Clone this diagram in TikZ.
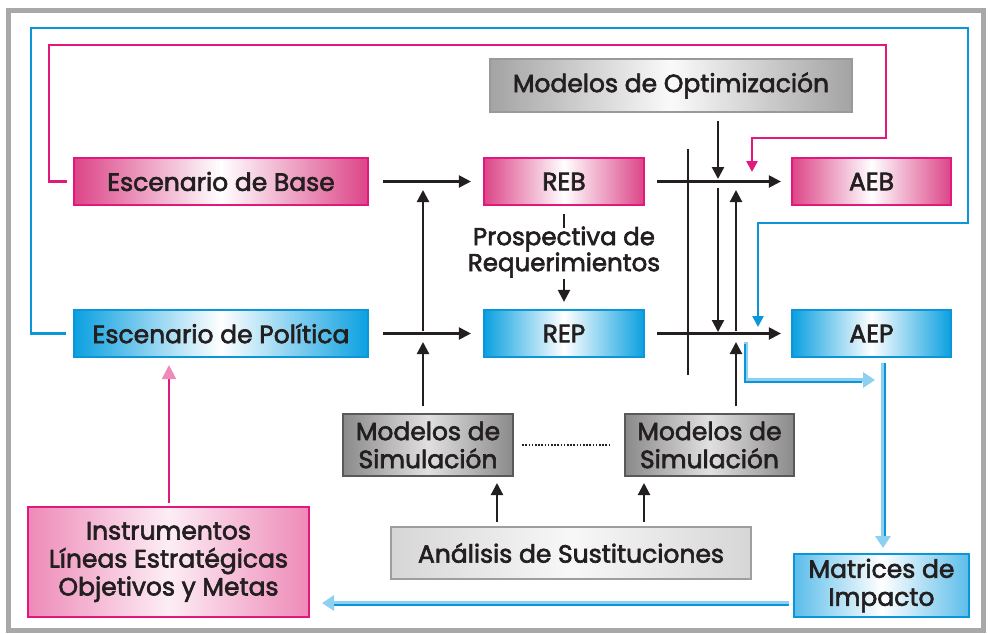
\documentclass[tikz,border=0pt]{standalone}
\usepackage{fontspec}
\setmainfont{Poppins}[FakeBold=2.5]
\usetikzlibrary{arrows.meta}
\definecolor{mag}{HTML}{E2187F}
\definecolor{pinkE}{HTML}{DC4588}
\definecolor{pinkL}{HTML}{EE8AB8}
\definecolor{bluB}{HTML}{0A96D8}
\definecolor{bluE}{HTML}{0BA0E0}
\definecolor{bluL}{HTML}{8CD0F2}
\definecolor{bluM}{HTML}{5BBDEA}
\definecolor{ink}{HTML}{231F20}
\definecolor{frameG}{HTML}{A8A8A8}
\tikzset{
  x=1pt, y=-1pt,
  txt/.style={font=\fontsize{25}{28}\selectfont, text=ink, align=center, inner sep=0pt},
  pinkbox/.style={txt, rectangle, draw=mag, line width=2.2pt, left color=pinkE, right color=pinkE, middle color=white},
  bluebox/.style={txt, rectangle, draw=bluB, line width=2.2pt, left color=bluE, right color=bluE, middle color=white},
  optbox/.style={txt, rectangle, draw=black!40, line width=2.5pt, left color=black!36, right color=black!36, middle color=black!2},
  simbox/.style={txt, rectangle, draw=black!65, line width=2.5pt, left color=black!46, right color=black!46, middle color=black!12},
  anabox/.style={txt, rectangle, draw=black!38, line width=2.5pt, left color=black!16, right color=black!16, middle color=black!3},
  arr/.style={draw=ink, line width=2.2pt, -{Triangle[length=12pt,width=12pt]}},
  plainline/.style={draw=ink, line width=2.2pt},
  pinkloop/.style={draw=mag, line width=2.4pt, -{Triangle[length=11pt,width=11pt]}},
  blueloop/.style={draw=bluB, line width=2.4pt, -{Triangle[length=11pt,width=11pt]}},
  b3d/.style={draw=bluL, line width=4.5pt, -{Triangle[length=12pt,width=15pt]}},
  b3dcore/.style={draw=bluB, line width=2pt},
  dots/.style={draw=ink, line width=2.6pt, dash pattern=on 1.6pt off 1.6pt},
}
\begin{document}
\begin{tikzpicture}
\useasboundingbox (0,0) rectangle (990,633);
\fill[white] (0,0) rectangle (990,633);
\draw[frameG, line width=5pt] (8,10) rectangle (983,630);

% nodes
\node[pinkbox, minimum width=294pt, minimum height=47pt] (base) at (221,181.5) {Escenario de Base};
\node[bluebox, minimum width=294pt, minimum height=47pt] (pol) at (221,333.5) {Escenario de Política};
\node[pinkbox, minimum width=160pt, minimum height=47pt] (reb) at (564,181.5) {REB};
\node[bluebox, minimum width=160pt, minimum height=47pt] (rep) at (564,333.5) {REP};
\node[pinkbox, minimum width=159pt, minimum height=47pt] (aeb) at (871.5,181.5) {AEB};
\node[bluebox, minimum width=159pt, minimum height=47pt] (aep) at (871.5,333.5) {AEP};
\node[optbox, minimum width=362pt, minimum height=53pt] (opt) at (671,85.5) {Modelos de Optimización};
\node[simbox, minimum width=170pt, minimum height=62pt] (sim1) at (428,445) {Modelos de\\Simulación};
\node[simbox, minimum width=169pt, minimum height=62pt] (sim2) at (709.5,445) {Modelos de\\Simulación};
\node[anabox, minimum width=360pt, minimum height=52pt] (ana) at (571,553) {Análisis de Sustituciones};
\node[pinkbox, left color=pinkL, right color=pinkL, middle color=white!85!pinkL, minimum width=281pt, minimum height=110pt] (ins) at (168.5,562) {Instrumentos\\Líneas Estratégicas\\Objetivos y Metas};
\node[bluebox, left color=bluM, right color=bluM, middle color=white, minimum width=175pt, minimum height=63pt] (mat) at (881.5,585.5) {Matrices de\\Impacto};
\node[txt, font=\fontsize{24.5}{26}\selectfont] (pros) at (564,252) {Prospectiva de\\Requerimientos};

% coordinates
\coordinate (v1a) at (423,331);
\coordinate (v1b) at (423,190);
\coordinate (v2a) at (423,406);
\coordinate (v2b) at (423,342);
\coordinate (o1a) at (718,121);
\coordinate (o1b) at (718,179);
\coordinate (o2a) at (718,188);
\coordinate (o2b) at (718,332);
\coordinate (u1a) at (736,331);
\coordinate (u1b) at (736,190);
\coordinate (u2a) at (736,406);
\coordinate (u2b) at (736,342);
\coordinate (lva) at (688,149);
\coordinate (lvb) at (688,375);

% black arrows
\draw[arr] ([xshift=14pt]base.east) -- ([xshift=-12pt]reb.west);
\draw[arr] ([xshift=14pt]pol.east) -- ([xshift=-12pt]rep.west);
\draw[arr] ([xshift=12pt]reb.east) -- ([xshift=-10pt]aeb.west);
\draw[arr] ([xshift=12pt]rep.east) -- ([xshift=-10pt]aep.west);
\draw[arr] (v1a) -- (v1b);
\draw[arr] (v2a) -- (v2b);
\draw[arr] (o1a) -- (o1b);
\draw[arr] (o2a) -- (o2b);
\draw[arr] (u1a) -- (u1b);
\draw[arr] (u2a) -- (u2b);
\draw[plainline] (lva) -- (lvb);
\draw[plainline] ([yshift=-8pt]reb.south) -- ([yshift=-22pt]reb.south);
\draw[arr] ([yshift=-27pt]pros.center) -- ([yshift=7pt]rep.north);
\draw[dots] ([xshift=8pt]sim1.east) -- ([xshift=-14pt]sim2.west);
\draw[arr] (497,522) -- (497,483);
\draw[arr] (644,522) -- (644,483);

% pink arrow from instruments
\draw[draw=mag, line width=1.8pt, -{Triangle[length=14pt,width=14pt,color=pinkL]}] (169,503) -- (169,365);

% loops
\draw[pinkloop] ([xshift=-6pt]base.west) -- (49,181.5) -- (49,45) -- (886,45) -- (886,138) -- (752,138) -- (752,172);
\draw[blueloop] ([xshift=-7pt]pol.west) -- (31,333.5) -- (31,28) -- (968,28) -- (968,223) -- (758,223) -- (758,327);

% blue 3D arrows
\draw[b3d] (746,342) -- (746,380) -- (875,380);
\draw[b3dcore] (744.5,344) -- (744.5,381.5) -- (862,381.5);
\draw[b3d] (883,363) -- (883,548);
\draw[b3dcore] (884.5,363) -- (884.5,536);
\draw[b3d] (789,603) -- (322,603);
\draw[b3dcore] (789,604.5) -- (334,604.5);
\end{tikzpicture}
\end{document}
